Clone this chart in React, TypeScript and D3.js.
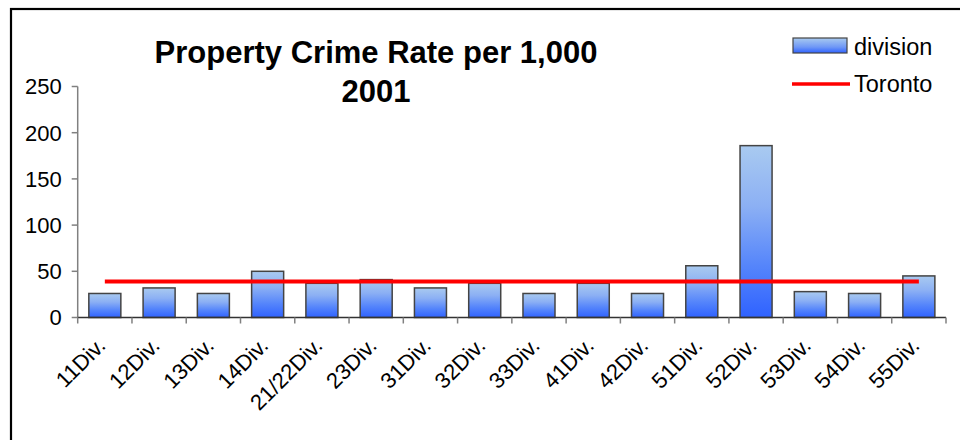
import React from "react";
import * as d3 from "d3";

const categories = ["11Div.", "12Div.", "13Div.", "14Div.", "21/22Div.", "23Div.", "31Div.", "32Div.", "33Div.", "41Div.", "42Div.", "51Div.", "52Div.", "53Div.", "54Div.", "55Div."];
const divisionValues = [26, 32, 26, 50, 37, 41, 32, 37, 26, 37, 26, 56, 186, 28, 26, 45];
const torontoValue = 39;
const yTicks = [0, 50, 100, 150, 200, 250];
const titleLines = ["Property Crime Rate per 1,000", "2001"];
const legendLabels = ["division", "Toronto"];

const W = 960;
const H = 440;
const FONT = "Arial, 'Liberation Sans', Helvetica, sans-serif";

export default function App() {
  const x = d3
    .scaleBand<string>()
    .domain(categories)
    .range([77.7, 946])
    .paddingInner(0.41)
    .paddingOuter(0.205);
  const y = d3.scaleLinear().domain([0, 250]).range([317.5, 86.5]);
  const step = x.step();
  const x0 = 77.7;
  const lineGen = d3
    .line<number>()
    .x((_, i) => (x(categories[i]) as number) + x.bandwidth() / 2)
    .y((v) => y(v));
  const torontoSeries = categories.map(() => torontoValue);

  return (
    <svg width={W} height={H} style={{ position: "absolute", left: 0, top: 0, background: "#fff" }}>
      <defs>
        <linearGradient id="barGrad" x1="0" y1="0" x2="0" y2="1">
          <stop offset="0%" stopColor="#a9caf0" />
          <stop offset="35%" stopColor="#8cb0f4" />
          <stop offset="70%" stopColor="#5585fb" />
          <stop offset="100%" stopColor="#2f62ff" />
        </linearGradient>
        <linearGradient id="legGrad" x1="0" y1="0" x2="0" y2="1">
          <stop offset="0%" stopColor="#a9caf0" />
          <stop offset="60%" stopColor="#6f98f6" />
          <stop offset="100%" stopColor="#2f62ff" />
        </linearGradient>
      </defs>
      <rect x={11} y={9} width={980} height={460} fill="#fff" stroke="#000" strokeWidth={2.2} />

      {/* Title */}
      <text x={376} y={63} textAnchor="middle" fontFamily={FONT} fontWeight="bold" fontSize={31} fill="#000">
        {titleLines[0]}
      </text>
      <text x={376} y={102} textAnchor="middle" fontFamily={FONT} fontWeight="bold" fontSize={31} fill="#000">
        {titleLines[1]}
      </text>

      {/* Y axis */}
      <line x1={x0} x2={x0} y1={y(250)} y2={y(0)} stroke="#808080" strokeWidth={1.5} />
      {yTicks.map((t) => (
        <g key={t}>
          <line x1={x0 - 6} x2={x0} y1={y(t)} y2={y(t)} stroke="#808080" strokeWidth={1.5} />
          <text x={x0 - 16} y={y(t)} dy="0.36em" textAnchor="end" fontFamily={FONT} fontSize={22} fill="#000">
            {t}
          </text>
        </g>
      ))}

      {/* Bars */}
      {categories.map((c, i) => (
        <rect
          key={c}
          x={x(c)}
          y={y(divisionValues[i])}
          width={x.bandwidth()}
          height={y(0) - y(divisionValues[i])}
          fill="url(#barGrad)"
          stroke="#444"
          strokeWidth={1.5}
        />
      ))}

      {/* X axis */}
      <line x1={x0} x2={x0 + step * categories.length} y1={y(0)} y2={y(0)} stroke="#333" strokeWidth={1.5} />
      {d3.range(categories.length + 1).map((i) => (
        <line key={i} x1={x0 + i * step} x2={x0 + i * step} y1={y(0)} y2={y(0) + 6} stroke="#808080" strokeWidth={1.5} />
      ))}
      {categories.map((c) => {
        const cx = (x(c) as number) + x.bandwidth() / 2 + 2;
        const cy = 347;
        return (
          <text
            key={c}
            x={cx}
            y={cy}
            textAnchor="end"
            transform={`rotate(-45, ${cx}, ${cy})`}
            fontFamily={FONT}
            fontSize={22}
            fill="#000"
          >
            {c}
          </text>
        );
      })}

      {/* Toronto line */}
      <path d={lineGen(torontoSeries) as string} fill="none" stroke="#ff0000" strokeWidth={4} />

      {/* Legend */}
      <rect x={793} y={38} width={54} height={15} fill="url(#legGrad)" stroke="#444" strokeWidth={1.2} />
      <text x={854} y={55} fontFamily={FONT} fontSize={23.5} fill="#000">
        {legendLabels[0]}
      </text>
      <line x1={792} x2={850} y1={84} y2={84} stroke="#ff0000" strokeWidth={3.5} />
      <text x={854} y={92} fontFamily={FONT} fontSize={23.5} fill="#000">
        {legendLabels[1]}
      </text>
    </svg>
  );
}
